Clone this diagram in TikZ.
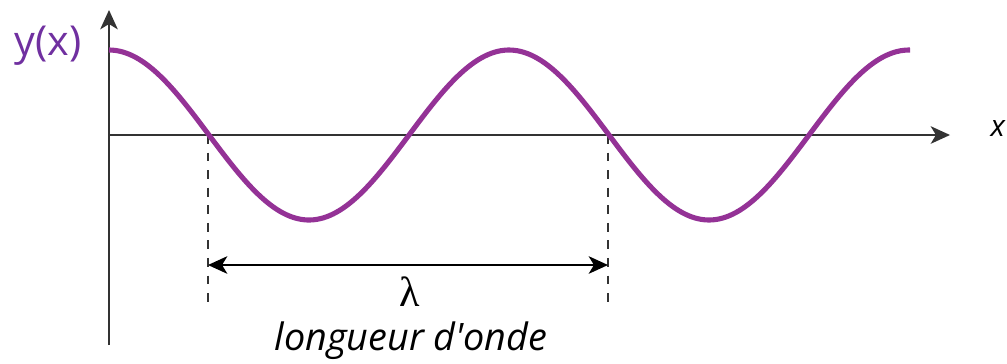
\documentclass[tikz,border=0pt]{standalone}
\usepackage{fontspec}
\setmainfont{Open Sans}[Ligatures=TeXOff]
\newfontfamily\lamfont{Liberation Serif}
\usetikzlibrary{arrows.meta}
\definecolor{wave}{RGB}{148,50,150}
\definecolor{lbl}{RGB}{112,48,160}
\tikzset{
  axis/.style={line width=1.1pt, draw=black!80, -{Stealth[length=11pt,width=10pt,inset=3pt]}},
  guide/.style={line width=0.6pt, draw=black!80, dash pattern=on 5pt off 5pt},
  dimline/.style={line width=1.1pt, draw=black, {Stealth[length=11pt,width=10pt,inset=3pt]}-{Stealth[length=11pt,width=10pt,inset=3pt]}},
  wavestyle/.style={line width=2.9pt, draw=wave},
}
\begin{document}
\begin{tikzpicture}[x=0.02cm,y=-0.02cm]
\useasboundingbox (0,0) rectangle (1007,363);
\coordinate (ybot) at (109,345);
\coordinate (ytop) at (109,10);
\coordinate (O) at (109,135);
\coordinate (xend) at (950,135);
\coordinate (A) at (208,135);
\coordinate (A2) at (208,305);
\coordinate (B) at (608,135);
\coordinate (B2) at (608,305);
\coordinate (dL) at (208,265);
\coordinate (dR) at (608,265);
\draw[guide] (A) -- (A2);
\draw[guide] (B) -- (B2);
\draw[axis] (O) -- (xend);
\draw[axis] (ybot) -- (ytop);
\draw[wavestyle] plot[domain=109:910, samples=240, smooth] (\x, {135-85*cos((\x-109)*0.9)});
\draw[dimline] (dL) -- (dR);
\node[text=lbl, font=\fontsize{23.5pt}{28pt}\selectfont] (ylabel) at (48,46) {y(x)};
\node[anchor=east, inner sep=1pt, font=\fontsize{17pt}{20pt}\selectfont\itshape] (xlabel) at (1007,128) {x};
\node[font=\fontsize{24pt}{26pt}\selectfont\lamfont] (lambda) at (410,292) {λ};
\node[font=\fontsize{21.5pt}{24pt}\selectfont\itshape] (ld) at (411,341) {longueur d'onde};
\end{tikzpicture}
\end{document}
